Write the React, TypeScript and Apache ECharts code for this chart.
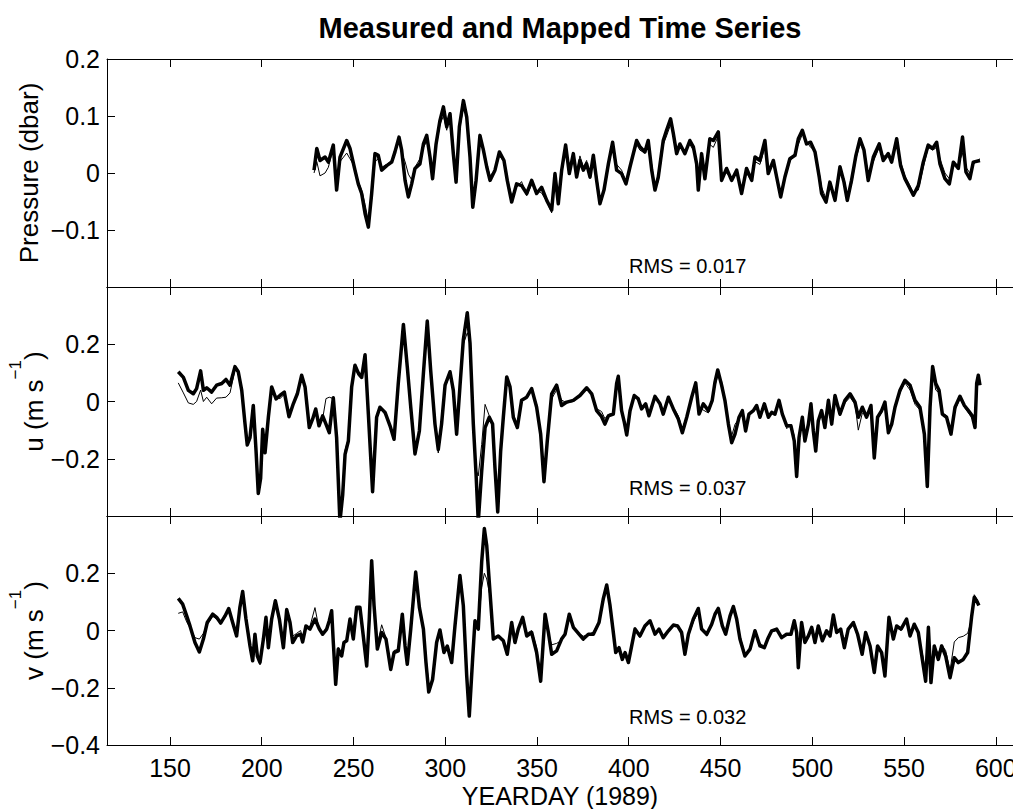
import React, { useEffect, useRef } from "react";
import * as echarts from "echarts";

const FONT = "'Liberation Sans', Arial, Helvetica, sans-serif";

const xTicks = [150, 200, 250, 300, 350, 400, 450, 500, 550, 600];
const pressureTicks = [-0.1, 0, 0.1, 0.2];
const uTicks = [-0.2, 0, 0.2];
const vTicks = [-0.4, -0.2, 0, 0.2];

// Pressure (dbar)
const pDays = [228.5, 230.0, 231.75, 234.5, 236.3, 239.0, 240.8, 242.65, 246.3, 248.1, 250.8, 252.6, 254.45, 256.3, 258.1, 259.9, 261.7, 263.5, 265.35, 268.1, 270.8, 272.6, 274.8, 276.25, 278.1, 279.9, 281.7, 283.5, 286.2, 288.1, 289.9, 291.7, 293.1, 295.0, 297.1, 299.0, 300.8, 302.6, 304.4, 305.9, 307.7, 309.9, 311.7, 313.5, 315.0, 316.8, 318.9, 320.8, 322.6, 324.4, 327.1, 329.5, 332.0, 333.8, 336.2, 338.9, 341.6, 344.4, 347.1, 349.8, 352.5, 355.3, 358.0, 359.8, 361.6, 363.45, 365.6, 367.6, 369.8, 371.6, 373.4, 375.25, 377.05, 378.9, 380.7, 382.5, 384.3, 386.5, 388.9, 391.2, 393.4, 396.1, 398.5, 400.7, 404.3, 406.1, 408.8, 410.6, 412.5, 414.3, 416.1, 418.8, 420.6, 422.8, 424.3, 426.1, 427.9, 430.6, 433.3, 435.2, 437.0, 437.9, 439.7, 441.5, 444.2, 446.1, 448.8, 450.6, 453.3, 456.05, 458.8, 461.5, 464.2, 467.0, 468.8, 471.5, 474.2, 476.0, 478.8, 480.6, 482.8, 485.1, 487.8, 490.6, 492.4, 494.6, 496.9, 499.1, 501.5, 503.8, 505.1, 507.5, 509.6, 512.4, 515.1, 517.3, 519.1, 521.4, 523.8, 526.0, 528.2, 530.5, 533.3, 536.5, 538.7, 541.4, 543.25, 546.0, 548.15, 550.5, 552.9, 555.1, 557.8, 560.5, 563.2, 565.6, 567.8, 569.6, 572.3, 574.7, 576.9, 579.6, 581.9, 583.75, 585.9, 587.75, 591.4];
const pMeasured = [0.005, 0.043, 0.022, 0.028, 0.019, 0.049, -0.030, 0.028, 0.057, 0.043, 0.005, -0.019, -0.036, -0.071, -0.095, -0.036, 0.034, 0.031, 0.005, 0.013, 0.019, 0.037, 0.063, 0.040, -0.013, -0.042, -0.019, 0.008, 0.016, 0.051, 0.066, 0.028, -0.010, 0.051, 0.092, 0.116, 0.081, 0.104, 0.034, -0.016, 0.081, 0.127, 0.098, 0.028, -0.060, -0.013, 0.066, 0.040, 0.011, -0.013, 0.005, 0.037, 0.022, -0.013, -0.051, -0.019, -0.022, -0.036, -0.013, -0.036, -0.025, -0.048, -0.065, -0.001, -0.054, 0.005, 0.049, -0.001, 0.034, -0.007, 0.022, 0.005, 0.016, -0.007, 0.031, -0.013, -0.054, -0.030, 0.016, 0.054, 0.005, -0.001, -0.019, 0.011, 0.057, 0.046, 0.037, 0.057, 0.005, -0.030, -0.007, 0.057, 0.075, 0.095, 0.069, 0.034, 0.051, 0.034, 0.057, 0.046, 0.016, -0.030, 0.034, -0.010, 0.060, 0.057, 0.072, -0.013, 0.008, -0.013, 0.005, -0.036, 0.008, -0.013, 0.028, 0.022, 0.057, -0.001, 0.022, -0.007, -0.042, -0.007, 0.025, 0.031, 0.060, 0.075, 0.051, 0.054, 0.037, -0.007, -0.036, -0.051, -0.016, -0.048, 0.011, -0.016, -0.048, -0.013, 0.031, 0.060, 0.040, -0.013, 0.028, 0.051, 0.022, 0.034, 0.019, 0.060, 0.013, -0.010, -0.025, -0.039, -0.022, 0.019, 0.049, 0.043, 0.054, 0.016, -0.010, -0.019, 0.019, 0.008, 0.063, 0.002, -0.010, 0.019, 0.022];
const pMapped = [0.000, 0.020, -0.005, 0.000, 0.010, 0.045, -0.020, 0.020, 0.035, 0.025, 0.010, -0.015, -0.030, -0.055, -0.085, -0.045, 0.020, 0.025, 0.010, 0.015, 0.022, 0.035, 0.055, 0.035, 0.020, -0.002, -0.012, 0.010, 0.025, 0.045, 0.055, 0.035, 0.000, 0.045, 0.085, 0.100, 0.075, 0.107, 0.045, -0.010, 0.075, 0.115, 0.100, 0.040, -0.045, -0.010, 0.055, 0.045, 0.015, -0.005, 0.005, 0.030, 0.020, -0.010, -0.040, -0.025, -0.015, -0.040, -0.020, -0.030, -0.035, -0.050, -0.070, -0.010, -0.045, 0.000, 0.040, 0.005, 0.030, 0.000, 0.030, 0.010, 0.022, -0.010, 0.025, -0.005, -0.045, -0.035, 0.010, 0.050, 0.015, 0.005, -0.015, 0.010, 0.050, 0.040, 0.035, 0.050, 0.015, -0.025, -0.015, 0.050, 0.065, 0.085, 0.072, 0.040, 0.045, 0.040, 0.050, 0.040, 0.020, -0.015, 0.025, 0.000, 0.050, 0.045, 0.065, 0.000, 0.000, -0.010, 0.000, -0.025, 0.000, -0.015, 0.020, 0.015, 0.045, 0.010, 0.015, -0.010, -0.035, -0.010, 0.020, 0.035, 0.050, 0.068, 0.055, 0.045, 0.040, 0.000, -0.025, -0.045, -0.020, -0.040, 0.000, -0.010, -0.040, -0.020, 0.025, 0.050, 0.045, -0.005, 0.020, 0.045, 0.030, 0.030, 0.025, 0.050, 0.020, -0.005, -0.020, -0.035, -0.030, 0.010, 0.045, 0.040, 0.045, 0.025, 0.000, -0.010, 0.015, 0.015, 0.035, 0.010, 0.000, 0.015, 0.025];

// u (m/s)
const uDays = [154.5, 157.3, 160.0, 162.7, 164.5, 166.7, 168.2, 170.0, 172.7, 175.4, 178.2, 180.5, 182.7, 185.4, 187.2, 189.1, 190.9, 192.1, 193.6, 195.4, 196.9, 198.1, 199.4, 200.5, 201.8, 203.6, 205.4, 207.8, 209.9, 212.3, 214.85, 217.2, 219.4, 221.75, 223.6, 225.9, 227.75, 229.4, 231.2, 233.2, 235.0, 236.8, 239.0, 240.8, 242.6, 244.1, 245.4, 247.2, 249.0, 250.8, 252.6, 254.45, 256.3, 258.1, 260.4, 262.6, 264.4, 267.2, 269.9, 272.1, 274.4, 277.2, 279.3, 281.2, 283.5, 285.9, 288.1, 290.2, 292.05, 294.4, 296.2, 298.0, 299.9, 302.6, 304.4, 306.2, 308.0, 309.85, 312.0, 313.5, 315.3, 316.8, 318.0, 319.85, 321.7, 324.0, 325.8, 327.1, 328.6, 330.2, 331.65, 333.5, 335.3, 337.1, 339.3, 341.6, 344.4, 347.1, 349.8, 352.0, 353.8, 355.6, 358.0, 360.7, 363.4, 366.2, 369.8, 373.4, 377.1, 379.8, 382.5, 385.2, 387.0, 388.9, 391.6, 393.4, 394.3, 396.1, 397.6, 398.9, 400.7, 403.0, 405.2, 407.0, 409.2, 411.0, 414.3, 417.0, 418.8, 421.6, 424.3, 427.0, 429.2, 431.6, 434.3, 436.5, 438.3, 440.6, 443.4, 445.5, 447.0, 448.5, 450.6, 452.4, 454.3, 456.1, 457.9, 460.1, 461.9, 463.7, 465.5, 467.9, 469.7, 471.5, 473.9, 476.1, 477.9, 479.7, 481.9, 483.7, 486.1, 488.4, 490.2, 491.5, 492.8, 494.6, 496.0, 497.9, 499.3, 500.6, 501.9, 503.3, 505.1, 506.9, 508.8, 510.6, 512.4, 515.1, 517.8, 520.6, 523.3, 525.1, 527.3, 529.6, 532.0, 533.8, 535.6, 537.8, 539.6, 541.5, 543.3, 545.1, 547.8, 550.5, 553.3, 556.0, 558.7, 561.1, 562.7, 564.2, 565.6, 567.3, 569.1, 570.9, 573.2, 575.6, 577.8, 580.5, 582.9, 585.1, 587.2, 588.7, 589.6, 590.5, 591.4];
const uMeasured = [0.104, 0.084, 0.039, 0.027, 0.045, 0.107, 0.039, 0.048, 0.033, 0.057, 0.063, 0.077, 0.057, 0.122, 0.104, 0.039, -0.079, -0.152, -0.126, -0.014, -0.173, -0.321, -0.268, -0.097, -0.179, -0.055, 0.051, 0.009, 0.021, 0.033, -0.053, -0.008, 0.027, 0.092, 0.051, -0.091, -0.061, -0.026, -0.085, -0.050, -0.079, -0.109, 0.013, -0.126, -0.420, -0.327, -0.185, -0.138, 0.051, 0.127, 0.100, 0.084, 0.163, -0.044, -0.315, -0.055, -0.020, -0.038, -0.085, -0.132, 0.063, 0.269, 0.122, -0.020, -0.183, -0.103, 0.098, 0.281, 0.110, -0.079, -0.168, -0.079, 0.057, 0.104, 0.039, -0.114, 0.051, 0.216, 0.310, 0.204, -0.079, -0.256, -0.420, -0.244, -0.091, -0.055, -0.079, -0.232, -0.386, -0.173, -0.055, 0.086, 0.051, -0.055, -0.091, 0.004, 0.015, 0.045, -0.020, -0.114, -0.280, -0.138, 0.027, 0.057, -0.014, -0.002, 0.004, 0.021, 0.048, 0.027, -0.032, -0.053, -0.079, -0.050, -0.044, 0.063, 0.088, -0.032, -0.073, -0.117, -0.032, 0.021, 0.009, -0.026, -0.008, -0.050, 0.018, -0.008, -0.044, 0.015, -0.026, -0.061, -0.109, -0.055, 0.015, 0.065, -0.044, -0.008, -0.032, 0.004, 0.068, 0.110, 0.057, 0.004, -0.079, -0.144, -0.114, -0.055, -0.032, -0.103, -0.044, -0.032, -0.014, -0.055, -0.008, -0.055, -0.038, -0.044, 0.004, -0.044, -0.085, -0.085, -0.138, -0.262, -0.126, -0.055, -0.138, -0.079, -0.008, -0.103, -0.173, -0.067, -0.032, -0.091, 0.004, -0.079, 0.021, -0.044, 0.004, 0.027, -0.002, -0.055, -0.020, -0.055, -0.014, -0.197, -0.055, -0.032, -0.002, -0.109, -0.079, -0.020, 0.039, 0.074, 0.057, 0.004, -0.020, -0.114, -0.297, -0.020, 0.122, 0.063, 0.039, -0.044, -0.055, -0.114, -0.020, 0.018, -0.014, -0.032, -0.050, -0.091, 0.063, 0.092, 0.057];
const uMapped = [0.065, 0.030, -0.005, -0.010, 0.000, 0.040, 0.000, 0.015, -0.008, 0.012, 0.013, 0.015, 0.030, 0.110, 0.100, 0.045, -0.070, -0.140, -0.120, -0.020, -0.160, -0.300, -0.250, -0.110, -0.165, -0.050, 0.045, 0.015, 0.010, 0.025, -0.045, -0.010, 0.030, 0.085, 0.050, -0.080, -0.060, -0.030, -0.075, -0.060, 0.010, 0.015, 0.010, -0.110, -0.420, -0.300, -0.170, -0.130, 0.040, 0.120, 0.090, 0.080, 0.150, -0.030, -0.290, -0.045, -0.025, -0.045, -0.080, -0.120, 0.055, 0.250, 0.120, -0.015, -0.150, -0.110, 0.090, 0.265, 0.115, -0.085, -0.180, -0.080, 0.050, 0.095, 0.045, -0.100, 0.050, 0.200, 0.240, 0.210, -0.070, -0.240, -0.260, -0.150, -0.010, -0.050, -0.075, -0.220, -0.370, -0.170, -0.060, 0.075, 0.055, -0.045, -0.085, 0.000, 0.020, 0.040, -0.010, -0.105, -0.260, -0.140, 0.010, 0.040, 0.005, -0.005, 0.000, 0.018, 0.045, 0.030, -0.025, -0.035, -0.060, -0.045, -0.040, 0.055, 0.080, -0.025, -0.065, -0.100, -0.030, 0.015, 0.010, -0.020, -0.010, -0.040, 0.015, -0.005, -0.035, 0.010, -0.020, -0.050, -0.095, -0.050, 0.010, 0.050, -0.020, -0.030, -0.040, 0.000, 0.055, 0.090, 0.070, 0.010, -0.070, -0.120, -0.080, -0.060, -0.040, -0.090, -0.045, -0.030, -0.020, -0.050, -0.012, -0.050, -0.040, -0.040, -0.005, -0.040, -0.095, -0.080, -0.120, -0.230, -0.115, -0.060, -0.120, -0.075, -0.015, -0.090, -0.150, -0.070, -0.040, -0.085, -0.005, -0.070, 0.010, -0.050, -0.005, 0.015, -0.010, -0.100, -0.040, -0.050, -0.020, -0.170, -0.060, -0.040, -0.010, -0.100, -0.080, -0.025, 0.030, 0.065, 0.040, -0.010, -0.030, -0.100, -0.260, -0.030, 0.100, 0.040, 0.030, -0.040, -0.050, -0.100, -0.030, 0.010, -0.020, -0.040, -0.060, -0.080, 0.050, 0.085, 0.060];

// v (m/s)
const vDays = [154.5, 156.9, 159.1, 160.9, 163.6, 166.0, 168.2, 170.3, 173.25, 175.4, 177.6, 180.0, 182.0, 184.15, 186.3, 188.1, 189.6, 191.4, 193.6, 195.05, 196.3, 197.6, 199.05, 200.9, 202.3, 203.6, 205.4, 207.4, 209.6, 211.8, 213.6, 215.4, 216.85, 219.0, 221.2, 222.3, 224.1, 226.3, 229.0, 231.4, 233.2, 235.4, 236.8, 238.1, 239.0, 240.3, 241.7, 243.55, 244.8, 246.3, 248.1, 249.9, 251.7, 253.5, 255.0, 257.2, 258.6, 259.9, 261.2, 263.0, 265.35, 267.7, 270.3, 272.1, 274.4, 276.6, 278.1, 279.3, 281.2, 283.9, 285.9, 288.1, 289.5, 291.0, 293.1, 295.3, 297.1, 299.3, 301.1, 303.5, 305.3, 308.0, 309.85, 311.7, 313.1, 314.9, 316.2, 318.0, 319.85, 321.3, 322.6, 324.4, 326.2, 328.9, 331.65, 333.8, 336.2, 338.0, 339.8, 342.2, 344.4, 347.1, 349.8, 352.0, 354.4, 356.2, 358.0, 360.7, 363.4, 365.3, 367.6, 369.8, 372.9, 375.2, 378.0, 380.7, 383.8, 386.1, 388.0, 389.8, 391.6, 392.9, 394.7, 396.5, 398.0, 399.8, 401.6, 403.4, 406.1, 408.8, 411.6, 414.3, 416.5, 418.8, 421.6, 424.3, 426.6, 428.8, 430.6, 432.5, 435.2, 437.9, 439.7, 442.5, 445.2, 447.0, 448.8, 451.0, 452.8, 455.2, 457.0, 458.8, 460.6, 463.3, 466.1, 468.8, 471.5, 473.9, 475.7, 477.9, 480.6, 483.3, 486.0, 488.4, 490.2, 491.5, 492.4, 494.2, 496.0, 497.9, 499.7, 501.5, 503.3, 505.5, 507.8, 509.7, 511.5, 513.3, 515.5, 517.5, 519.6, 522.4, 524.7, 527.2, 529.1, 531.5, 533.8, 535.6, 537.8, 539.6, 541.8, 544.2, 546.0, 548.4, 551.4, 553.3, 555.6, 557.8, 560.0, 561.8, 563.3, 564.7, 566.5, 568.7, 570.5, 572.7, 575.1, 577.4, 579.6, 582.3, 584.7, 586.9, 588.3, 589.6, 590.8];
const vMeasured = [0.112, 0.092, 0.051, 0.016, -0.042, -0.075, -0.030, 0.028, 0.057, 0.046, 0.026, 0.051, 0.077, 0.028, -0.019, 0.081, 0.136, 0.040, -0.054, -0.106, -0.013, -0.089, -0.112, -0.030, 0.046, -0.060, 0.040, 0.104, 0.040, -0.060, 0.073, 0.028, -0.042, -0.019, -0.013, -0.040, 0.016, 0.005, 0.040, 0.005, -0.013, 0.005, 0.034, 0.069, -0.042, -0.188, -0.065, -0.089, -0.042, -0.036, 0.040, -0.030, 0.081, 0.081, -0.001, -0.124, 0.040, 0.244, 0.087, -0.065, -0.007, -0.030, -0.136, -0.077, -0.071, 0.057, -0.054, -0.118, 0.005, 0.204, 0.081, 0.005, -0.112, -0.215, -0.171, -0.042, 0.002, -0.077, -0.054, -0.112, 0.016, 0.192, 0.087, -0.159, -0.299, -0.101, 0.034, 0.005, 0.239, 0.356, 0.297, 0.133, -0.030, -0.019, -0.036, -0.083, 0.028, -0.042, 0.005, 0.046, -0.019, -0.007, -0.077, -0.177, 0.057, -0.007, -0.083, -0.071, -0.030, -0.013, 0.057, 0.011, -0.013, -0.030, -0.013, -0.013, 0.028, 0.110, 0.159, 0.087, -0.007, -0.077, -0.060, -0.101, -0.077, -0.112, -0.054, 0.005, -0.019, 0.016, 0.034, -0.013, 0.005, -0.025, -0.001, 0.019, 0.016, -0.007, -0.083, -0.013, 0.040, 0.077, 0.005, -0.013, 0.022, 0.057, 0.077, 0.016, -0.013, 0.051, 0.084, 0.040, -0.030, -0.089, -0.065, -0.001, -0.054, -0.060, -0.030, -0.001, 0.005, -0.025, -0.013, -0.013, 0.034, -0.007, -0.130, 0.028, -0.042, -0.019, 0.011, -0.042, 0.016, -0.036, -0.001, -0.019, 0.054, -0.007, 0.005, -0.060, 0.005, 0.028, -0.013, -0.083, -0.007, -0.054, -0.147, -0.054, -0.077, -0.159, 0.046, -0.030, 0.016, 0.005, 0.040, -0.019, 0.022, -0.007, -0.101, -0.177, 0.011, -0.182, -0.054, -0.101, -0.054, -0.089, -0.165, -0.095, -0.112, -0.101, -0.077, 0.051, 0.116, 0.104, 0.087];
const vMapped = [0.060, 0.065, 0.030, 0.010, -0.025, -0.030, -0.010, 0.020, 0.050, 0.040, 0.030, 0.045, 0.070, 0.030, -0.010, 0.070, 0.120, 0.045, -0.050, -0.090, -0.020, -0.080, -0.120, -0.030, 0.040, -0.050, 0.035, 0.095, 0.045, -0.050, 0.065, 0.030, -0.020, -0.010, 0.000, -0.030, 0.010, 0.015, 0.080, 0.000, -0.010, 0.010, 0.030, 0.060, -0.030, -0.150, -0.060, -0.080, -0.040, -0.030, 0.035, -0.025, 0.070, 0.075, 0.005, -0.110, 0.030, 0.200, 0.080, -0.050, 0.020, -0.025, -0.120, -0.070, -0.065, 0.045, -0.040, -0.100, 0.000, 0.180, 0.090, 0.010, -0.090, -0.190, -0.180, -0.040, 0.000, -0.070, -0.060, -0.100, 0.010, 0.180, 0.080, -0.150, -0.280, -0.100, 0.020, 0.010, 0.150, 0.200, 0.180, 0.120, -0.020, -0.025, -0.030, -0.070, 0.020, -0.035, 0.000, 0.040, -0.010, 0.000, -0.060, -0.160, 0.050, -0.010, -0.050, -0.045, -0.035, -0.010, 0.050, 0.010, -0.010, -0.020, -0.015, -0.005, 0.030, 0.100, 0.150, 0.090, 0.000, -0.060, -0.065, -0.090, -0.080, -0.100, -0.050, 0.010, -0.025, 0.020, 0.030, -0.010, 0.000, -0.020, 0.000, 0.015, 0.020, 0.000, -0.060, -0.020, 0.030, 0.065, 0.010, -0.020, 0.015, 0.050, 0.070, 0.020, -0.010, 0.045, 0.075, 0.045, -0.020, -0.080, -0.070, -0.005, -0.045, -0.055, -0.035, -0.005, 0.000, -0.020, -0.015, -0.010, 0.025, -0.010, -0.100, 0.020, -0.035, -0.025, 0.010, -0.035, 0.010, -0.030, -0.005, -0.010, 0.045, -0.010, 0.000, -0.030, 0.000, 0.020, -0.020, -0.070, -0.010, -0.050, -0.130, -0.060, -0.070, -0.140, 0.040, -0.020, 0.010, 0.000, 0.035, -0.010, 0.020, -0.010, -0.080, -0.150, 0.000, -0.150, -0.060, -0.080, -0.050, -0.070, -0.140, -0.040, -0.025, -0.020, -0.010, 0.040, 0.125, 0.110, 0.095];

const panelNames = ["Pressure (dbar)", "{n|u (m s}{s|\u22121}{n|)}", "{n|v (m s}{s|\u22121}{n|)}"];
const rmsLabels = ["RMS = 0.017", "RMS = 0.037", "RMS = 0.032"];

const X_MIN = 115.67;
const X_MAX = 609.4;

function pairs(days: number[], vals: number[]) {
  return days.map((d, i) => [d, vals[i]]);
}

function fmtY(v: number) {
  if (Math.abs(v) < 1e-9) return "0";
  const s = Math.abs(v).toFixed(1);
  return v < 0 ? "\u2212" + s : s;
}

export default function App() {
  const ref = useRef<HTMLDivElement>(null);

  useEffect(() => {
    if (!ref.current) return;
    const chart = echarts.init(ref.current, null, { renderer: "svg" });

    const grids = [
      { left: 107, right: 0, top: 59, height: 228, containLabel: false, outerBoundsMode: "none" },
      { left: 107, right: 0, top: 287, height: 229, containLabel: false, outerBoundsMode: "none" },
      { left: 107, right: 0, top: 516, height: 229, containLabel: false, outerBoundsMode: "none" },
    ];
    const yRanges = [
      [-0.2, 0.2],
      [-0.4, 0.4],
      [-0.4, 0.4],
    ];
    const yTickSets = [pressureTicks, uTicks, vTicks];
    const nameGaps = [65, 60, 60];

    const axisLineStyle = { color: "#000", width: 1 };
    const xAxes: any[] = [];
    grids.forEach((_, i) => {
      xAxes.push({
        type: "value",
        gridIndex: i,
        position: "bottom",
        min: X_MIN,
        max: X_MAX,
        axisLine: { show: true, onZero: false, lineStyle: axisLineStyle },
        axisTick: { show: true, inside: true, length: 8, customValues: xTicks, lineStyle: axisLineStyle },
        axisLabel: {
          show: i === 2,
          customValues: xTicks,
          color: "#000",
          fontSize: 25,
          fontFamily: FONT,
          margin: 10,
        },
        splitLine: { show: false },
        name: i === 2 ? "YEARDAY (1989)" : "",
        nameLocation: "middle",
        nameGap: 38,
        nameMoveOverlap: false,
        nameTextStyle: { color: "#000", fontSize: 25, fontFamily: FONT },
      });
      xAxes.push({
        type: "value",
        gridIndex: i,
        position: "top",
        min: X_MIN,
        max: X_MAX,
        axisLine: { show: true, onZero: false, lineStyle: axisLineStyle },
        axisTick: { show: true, inside: true, length: 8, customValues: xTicks, lineStyle: axisLineStyle },
        axisLabel: { show: false, customValues: xTicks },
        splitLine: { show: false },
      });
    });

    const yAxes = grids.map((_, i) => ({
      type: "value",
      gridIndex: i,
      position: "left",
      min: yRanges[i][0],
      max: yRanges[i][1],
      axisLine: { show: true, onZero: false, lineStyle: axisLineStyle },
      axisTick: { show: true, inside: true, length: 8, customValues: yTickSets[i], lineStyle: axisLineStyle },
      axisLabel: {
        customValues: yTickSets[i],
        formatter: (v: number) => fmtY(v),
        color: "#000",
        fontSize: 25,
        fontFamily: FONT,
        margin: 7,
      },
      splitLine: { show: false },
      name: panelNames[i],
      nameLocation: "middle",
      nameRotate: 90,
      nameGap: nameGaps[i],
      nameMoveOverlap: false,
      nameTextStyle: {
        color: "#000",
        fontSize: 26,
        fontFamily: FONT,
        rich: {
          n: { fontSize: 26, fontFamily: FONT, color: "#000", lineHeight: 40, verticalAlign: "bottom" },
          s: { fontSize: 17, fontFamily: FONT, color: "#000", lineHeight: 17, verticalAlign: "top" },
        },
      },
    }));

    const datasets = [
      [pDays, pMeasured, pMapped],
      [uDays, uMeasured, uMapped],
      [vDays, vMeasured, vMapped],
    ] as const;

    const series: any[] = [];
    datasets.forEach(([days, meas, mapped], i) => {
      series.push({
        type: "line",
        name: "Measured",
        xAxisIndex: i * 2,
        yAxisIndex: i,
        data: pairs(days as number[], meas as number[]),
        showSymbol: false,
        symbol: "none",
        clip: true,
        lineStyle: { color: "#000", width: 3.5, join: "round" },
      });
      series.push({
        type: "line",
        name: "Mapped",
        xAxisIndex: i * 2,
        yAxisIndex: i,
        data: pairs(days as number[], mapped as number[]),
        showSymbol: false,
        symbol: "none",
        clip: true,
        lineStyle: { color: "#000", width: 1 },
      });
    });

    const rmsY = [266, 488, 717];

    chart.setOption({
      animation: false,
      backgroundColor: "#fff",
      grid: grids,
      xAxis: xAxes,
      yAxis: yAxes,
      series,
      graphic: [
        {
          type: "text",
          x: 560,
          y: 28,
          style: {
            text: "Measured and Mapped Time Series",
            align: "center",
            verticalAlign: "middle",
            fontSize: 29,
            fontWeight: "bold",
            fontFamily: FONT,
            fill: "#000",
          },
        },
        ...rmsLabels.map((t, i) => ({
          type: "text",
          x: 629,
          y: rmsY[i],
          style: {
            text: t,
            align: "left",
            verticalAlign: "middle",
            fontSize: 20,
            fontFamily: FONT,
            fill: "#000",
          },
        })),
      ],
    });

    return () => chart.dispose();
  }, []);

  return (
    <div
      ref={ref}
      style={{ position: "absolute", left: 0, top: 0, width: 1013, height: 809, background: "#fff" }}
    />
  );
}
